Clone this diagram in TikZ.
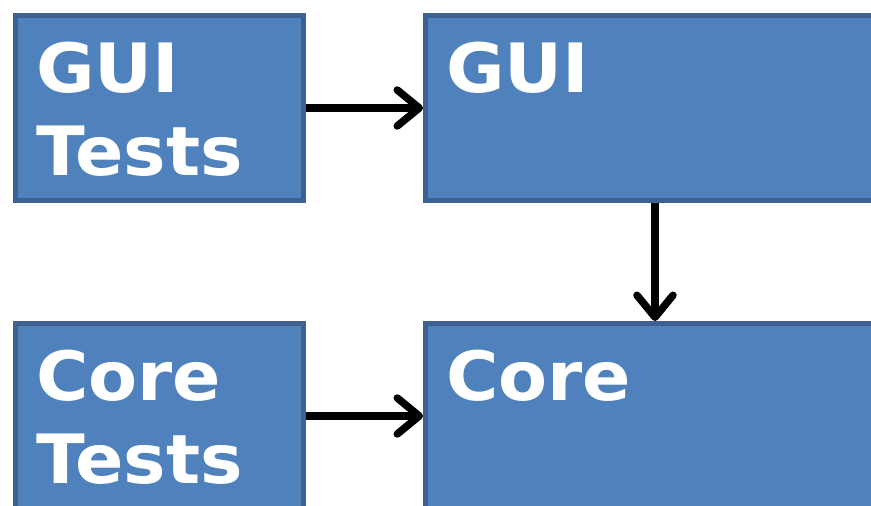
\documentclass[tikz,border=0pt]{standalone}
\usepackage{fontspec}
\setsansfont{DejaVu Sans}[FakeStretch=1.05]
\usetikzlibrary{arrows.meta,calc}
\definecolor{boxblue}{HTML}{4F81BD}
\definecolor{boxedge}{HTML}{3D6291}
\tikzset{
	layer/.style = {draw=boxedge, fill=boxblue, line width=5pt, minimum width=#1, minimum height=185pt, inner sep=0pt, outer sep=2.5pt},
	caption/.style = {text=white, font=\sffamily\bfseries\fontsize{68}{83}\selectfont, align=left, inner sep=0pt},
	flow/.style = {line width=7.5pt, -{Straight Barb[length=22pt, width=36pt, round]}}
}

\begin{document}
\begin{tikzpicture}[x=1pt, y=1pt]
	\useasboundingbox (0,0) rectangle (871,506);
	\clip (0,0) rectangle (871,506);
	% the four layers
	\node[layer=288pt] (guitests) at (159.5,398) {};
	\node[layer=480pt] (gui) at (665.5,398) {};
	\node[layer=288pt] (coretests) at (159.5,90) {};
	\node[layer=480pt] (core) at (665.5,90) {};
	% base is the last line, so two-line captions sit one line lower
	\node[caption, anchor=base west] (guitestslabel) at ($(guitests.north west)+(23,-163)$) {GUI\\Tests};
	\node[caption, anchor=base west] (guilabel) at ($(gui.north west)+(23,-80)$) {GUI};
	\node[caption, anchor=base west] (coretestslabel) at ($(coretests.north west)+(23,-163)$) {Core\\Tests};
	\node[caption, anchor=base west] (corelabel) at ($(core.north west)+(23,-80)$) {Core};
	% dependencies
	\draw[flow] (guitests.east) -- (gui.west);
	\draw[flow] (coretests.east) -- (core.west);
	\draw[flow] ([xshift=-10.5pt]gui.south) -- ([xshift=-10.5pt]core.north);
\end{tikzpicture}
\end{document}
